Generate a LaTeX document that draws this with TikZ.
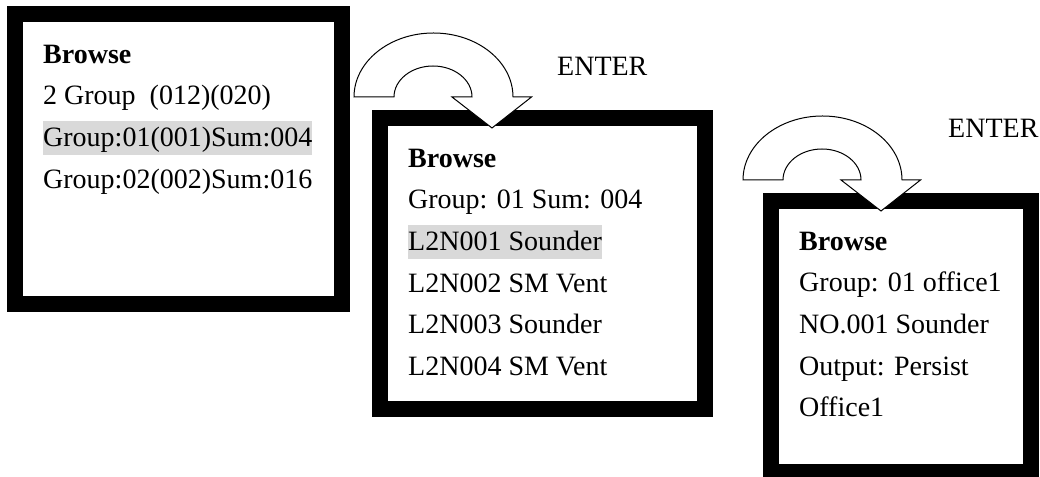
\documentclass[tikz,border=0pt]{standalone}
\usepackage{fontspec}
\setmainfont{Liberation Serif}
\usetikzlibrary{positioning}

\begin{document}
\begin{tikzpicture}[
  x=1pt, y=1pt,
  screen/.style = {draw, rectangle, line width=16pt, inner sep=0pt},
  row/.style    = {inner sep=0pt, text height=26pt, text depth=8pt,
                   font=\fontsize{28}{34}\selectfont},
  hilite/.style = {row, fill=gray!30},
  press/.style  = {anchor=base west, inner sep=0pt, font=\fontsize{28}{34}\selectfont},
  turn/.style   = {draw, fill=white, line width=1pt},
]
  \useasboundingbox (0,0) rectangle (1040,476);

  % Screens
  \node[screen, minimum width=327pt,   minimum height=290pt]   (scrA) at (178.5,317)     {};
  \node[screen, minimum width=324.5pt, minimum height=291.5pt] (scrB) at (542.25,212.25) {};
  \node[screen, minimum width=260pt,   minimum height=271pt]   (scrC) at (901,139.5)     {};

  % Group list
  \node[row,    below right=31pt and 36pt of scrA.north west] (a1) {\textbf{Browse}};
  \node[row,    below right=7.3pt and 0pt of a1.south west]   (a2) {2 Group\ \ (012)(020)};
  \node[hilite, below right=7.3pt and 0pt of a2.south west]   (a3) {Group:01(001)Sum:004};
  \node[row,    below right=7.3pt and 0pt of a3.south west]   (a4) {Group:02(002)Sum:016};

  % Devices of group 01
  \node[row,    below right=31pt and 36pt of scrB.north west] (b1) {\textbf{Browse}};
  \node[row,    below right=7.3pt and 0pt of b1.south west]   (b2) {Group: 01 Sum: 004};
  \node[hilite, below right=7.3pt and 0pt of b2.south west]   (b3) {L2N001 Sounder};
  \node[row,    below right=7.3pt and 0pt of b3.south west]   (b4) {L2N002 SM Vent};
  \node[row,    below right=7.3pt and 0pt of b4.south west]   (b5) {L2N003 Sounder};
  \node[row,    below right=7.3pt and 0pt of b5.south west]   (b6) {L2N004 SM Vent};

  % Device detail
  \node[row,    below right=31pt and 36pt of scrC.north west] (c1) {\textbf{Browse}};
  \node[row,    below right=7.3pt and 0pt of c1.south west]   (c2) {Group: 01 office1};
  \node[row,    below right=7.3pt and 0pt of c2.south west]   (c3) {NO.001 Sounder};
  \node[row,    below right=7.3pt and 0pt of c3.south west]   (c4) {Output: Persist};
  \node[row,    below right=7.3pt and 0pt of c4.south west]   (c5) {Office1};

  % Turn arrows
  \coordinate (turnA) at (433.5,379);
  \coordinate (turnB) at (822.5,296);
  \foreach \t in {turnA, turnB}
    \draw[turn, shift={(\t)}] (-79.5,0)
      arc[start angle=180, end angle=0, x radius=79.5, y radius=64]
      -- (98,0) -- (58.5,-31) -- (18.5,0) -- (38.5,0)
      arc[start angle=0, end angle=180, x radius=39, y radius=31] -- cycle;

  \node[press] (enterA) at (557,400) {ENTER};
  \node[press] (enterB) at (948,338) {ENTER};
\end{tikzpicture}
\end{document}
